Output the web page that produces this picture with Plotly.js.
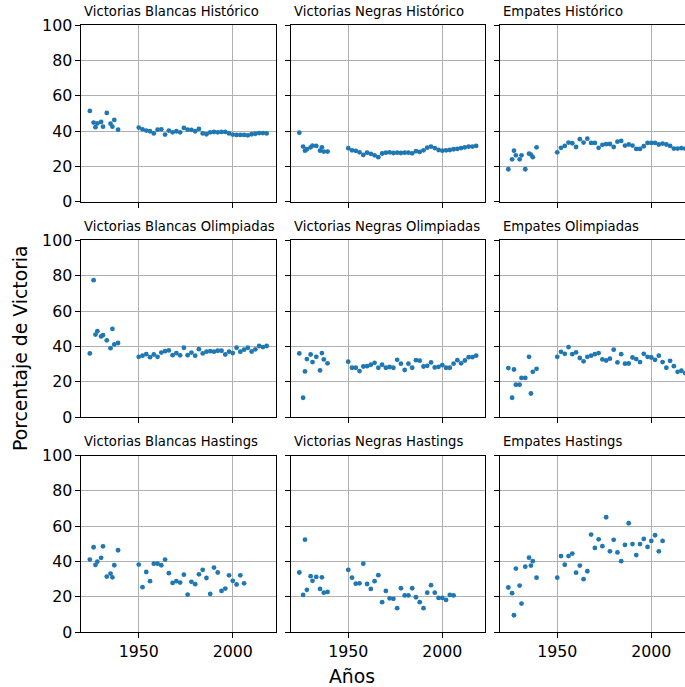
<!DOCTYPE html>
<html>
<head>
<meta charset="utf-8">
<script src="https://cdn.plot.ly/plotly-3.0.1.min.js"></script>
<style>
  html, body { margin: 0; padding: 0; overflow: hidden; background: #fff; }
  #chart { width: 704px; height: 687px; }
</style>
</head>
<body>
<div id="chart"></div>
<script>
// Years shared by the "Histórico" and "Olimpiadas" rows
const anosOlimpiadas = [1924, 1926, 1927, 1928, 1930, 1931, 1933, 1935, 1936, 1937, 1939,
  1950, 1952, 1954, 1956, 1958, 1960, 1962, 1964, 1966, 1968, 1970, 1972, 1974, 1976, 1978,
  1980, 1982, 1984, 1986, 1988, 1990, 1992, 1994, 1996, 1998, 2000, 2002, 2004, 2006, 2008,
  2010, 2012, 2014, 2016, 2018];

// Years of the Hastings row
const anosHastings = [1924, 1926, 1927, 1928, 1930, 1931, 1933, 1935, 1936, 1937, 1939,
  1950, 1952, 1954, 1956, 1958, 1960, 1962, 1964, 1966, 1968, 1970, 1972, 1974, 1976, 1978,
  1980, 1982, 1984, 1986, 1988, 1990, 1992, 1994, 1996, 1998, 2000, 2002, 2004, 2006];

// Percentages (white wins, black wins, draws)
const blancasHistorico = [51.5, 44.9, 42.3, 44.5, 45.3, 42.6, 50.4, 44.3, 42.6, 46.4, 40.9,
  42.1, 41.1, 40.4, 40.0, 38.8, 40.9, 41.1, 38.1, 40.4, 39.4, 40.0, 39.4, 41.9, 40.9, 40.8,
  40.0, 41.3, 38.8, 38.3, 39.4, 39.6, 39.4, 39.6, 39.6, 38.8, 38.1, 37.9, 37.9, 37.9, 37.7,
  38.3, 38.6, 39.0, 39.0, 38.8];
const negrasHistorico = [39.2, 31.3, 29.0, 29.8, 30.9, 31.9, 31.7, 29.0, 30.9, 28.5, 28.5,
  30.4, 29.2, 28.9, 28.1, 26.6, 27.9, 27.2, 26.4, 25.3, 27.4, 27.9, 28.1, 27.7, 27.9, 27.7,
  27.9, 27.9, 27.5, 28.7, 28.3, 29.2, 30.7, 31.3, 30.5, 29.4, 29.0, 29.2, 29.4, 29.8, 30.0,
  30.5, 30.9, 31.3, 31.3, 31.7];
const empatesHistorico = [18.5, 24.1, 29.0, 26.4, 24.1, 26.4, 18.5, 27.3, 26.8, 25.3, 30.9,
  28.1, 30.6, 31.7, 33.6, 33.2, 31.1, 35.5, 33.6, 35.8, 33.4, 33.4, 30.6, 32.3, 32.7, 32.8,
  31.1, 34.1, 34.5, 31.9, 32.5, 31.9, 30.0, 30.0, 31.5, 33.4, 33.4, 33.4, 32.5, 33.0, 32.5,
  31.7, 30.2, 30.2, 30.4, 30.2];

const blancasOlimpiadas = [36.0, 77.5, 46.7, 48.6, 45.6, 46.4, 43.4, 39.0, 49.9, 41.1, 41.9,
  34.1, 34.7, 35.6, 33.9, 35.4, 34.1, 36.5, 37.3, 37.7, 35.0, 36.2, 34.9, 39.2, 35.0, 36.5,
  34.7, 38.4, 36.0, 37.0, 37.3, 37.0, 37.5, 37.5, 35.4, 37.0, 36.2, 39.2, 37.0, 38.1, 39.2,
  37.1, 38.3, 40.2, 39.6, 40.2];
const negrasOlimpiadas = [36.0, 10.9, 25.8, 32.8, 35.4, 31.1, 34.1, 26.4, 36.2, 32.6, 30.4,
  31.3, 27.9, 27.9, 26.0, 28.6, 28.8, 29.6, 30.7, 27.9, 29.6, 27.9, 28.3, 27.9, 32.4, 30.2,
  26.6, 30.2, 27.9, 32.2, 31.9, 28.6, 29.0, 30.9, 28.1, 28.4, 29.4, 27.9, 27.9, 30.2, 32.2,
  30.4, 32.0, 33.9, 33.9, 34.7];
const empatesOlimpiadas = [27.7, 10.9, 26.9, 18.3, 18.3, 22.1, 22.1, 34.1, 13.3, 25.6, 27.3,
  34.1, 36.9, 35.8, 39.6, 35.6, 36.6, 33.4, 31.5, 34.1, 34.7, 35.6, 36.2, 32.6, 32.0, 33.0,
  38.1, 30.9, 35.6, 30.2, 30.3, 33.7, 32.8, 31.1, 35.8, 34.1, 33.7, 32.4, 34.7, 31.1, 27.9,
  31.8, 28.8, 25.6, 26.2, 24.9];

const blancasHastings = [41.1, 48.1, 38.1, 40.0, 42.1, 48.6, 31.5, 33.2, 31.1, 37.9, 46.4,
  38.3, 25.5, 34.1, 28.9, 38.8, 38.8, 37.9, 41.1, 33.4, 27.9, 28.9, 28.1, 32.6, 21.3, 28.5,
  27.2, 32.8, 35.3, 30.7, 21.7, 36.6, 33.8, 23.4, 24.7, 32.2, 29.1, 27.0, 32.2, 27.7];
const negrasHastings = [33.8, 21.1, 52.4, 24.0, 31.7, 29.1, 31.3, 24.5, 31.1, 22.4, 22.8,
  35.3, 30.9, 27.5, 27.7, 38.8, 27.3, 24.5, 28.9, 32.3, 17.0, 23.4, 19.2, 18.9, 13.6, 24.9,
  20.8, 20.8, 24.9, 19.8, 17.0, 13.6, 22.4, 26.6, 22.4, 19.4, 19.4, 18.3, 21.1, 20.8];
const empatesHastings = [25.3, 22.1, 9.6, 36.0, 26.4, 16.2, 37.1, 42.2, 37.7, 40.2, 30.9,
  30.9, 43.1, 38.2, 43.1, 44.5, 33.7, 37.7, 30.0, 34.5, 55.3, 47.7, 52.6, 48.7, 65.1, 45.8,
  52.3, 45.2, 40.2, 49.4, 61.7, 49.9, 43.7, 49.9, 52.8, 48.3, 51.7, 54.9, 45.8, 51.7];

const titulos = [
  'Victorias Blancas Histórico', 'Victorias Negras Histórico', 'Empates Histórico',
  'Victorias Blancas Olimpiadas', 'Victorias Negras Olimpiadas', 'Empates Olimpiadas',
  'Victorias Blancas Hastings', 'Victorias Negras Hastings', 'Empates Hastings'
];

const paneles = [
  [anosOlimpiadas, blancasHistorico], [anosOlimpiadas, negrasHistorico], [anosOlimpiadas, empatesHistorico],
  [anosOlimpiadas, blancasOlimpiadas], [anosOlimpiadas, negrasOlimpiadas], [anosOlimpiadas, empatesOlimpiadas],
  [anosHastings, blancasHastings], [anosHastings, negrasHastings], [anosHastings, empatesHastings]
];

// Figure geometry (pixels)
const W = 704, H = 687;
const colLeft = [81, 290.5, 499.5], colW = 194.5;
const rowTop = [25.3, 240.4, 455.6], rowH = 176.6;
const FONT = 'DejaVu Sans, sans-serif';

const data = [];
const layout = {
  width: W, height: H,
  margin: {l: 0, r: 0, t: 0, b: 0},
  paper_bgcolor: '#fff', plot_bgcolor: '#fff',
  showlegend: false,
  font: {family: FONT, color: '#000'},
  annotations: []
};

for (let r = 0; r < 3; r++) {
  for (let c = 0; c < 3; c++) {
    const k = r * 3 + c + 1;
    const sx = k === 1 ? '' : String(k);
    const [xs, ys] = paneles[k - 1];
    data.push({
      type: 'scatter', mode: 'markers',
      x: xs, y: ys,
      xaxis: 'x' + sx, yaxis: 'y' + sx,
      marker: {color: '#1f77b4', size: 4.8, line: {width: 0}},
      hoverinfo: 'x+y'
    });
    const common = {
      showgrid: true, gridcolor: '#b0b0b0', gridwidth: 1,
      showline: true, mirror: true, linecolor: '#000', linewidth: 1,
      ticks: 'outside', ticklen: 4.6, tickwidth: 1, tickcolor: '#000',
      tickfont: {family: FONT, size: 15.8, color: '#000'},
      zeroline: false, fixedrange: true
    };
    layout['xaxis' + sx] = Object.assign({}, common, {
      domain: [colLeft[c] / W, (colLeft[c] + colW) / W],
      anchor: 'y' + sx,
      range: [1919.3, 2022.7],
      tickvals: [1950, 2000],
      showticklabels: r === 2
    });
    layout['yaxis' + sx] = Object.assign({}, common, {
      domain: [1 - (rowTop[r] + rowH) / H, 1 - rowTop[r] / H],
      anchor: 'x' + sx,
      range: [0, 100],
      tickvals: [0, 20, 40, 60, 80, 100],
      showticklabels: c === 0
    });
    layout.annotations.push({
      text: titulos[k - 1],
      xref: 'paper', yref: 'paper',
      x: (colLeft[c] + 1) / W, y: 1 - (rowTop[r] - 13.8) / H,
      xanchor: 'left', yanchor: 'middle',
      showarrow: false,
      font: {family: FONT, size: 13.2, color: '#000'}
    });
  }
}

layout.annotations.push({
  text: 'Años', xref: 'paper', yref: 'paper',
  x: 352 / W, y: 1 - 676 / H, xanchor: 'center', yanchor: 'middle',
  showarrow: false, font: {family: FONT, size: 18.8, color: '#000'}
});
layout.annotations.push({
  text: 'Porcentaje de Victoria', xref: 'paper', yref: 'paper',
  x: 20 / W, y: 1 - 348 / H, xanchor: 'center', yanchor: 'middle',
  textangle: -90,
  showarrow: false, font: {family: FONT, size: 18.8, color: '#000'}
});

Plotly.newPlot('chart', data, layout, {displayModeBar: false, staticPlot: true});
</script>
</body>
</html>
